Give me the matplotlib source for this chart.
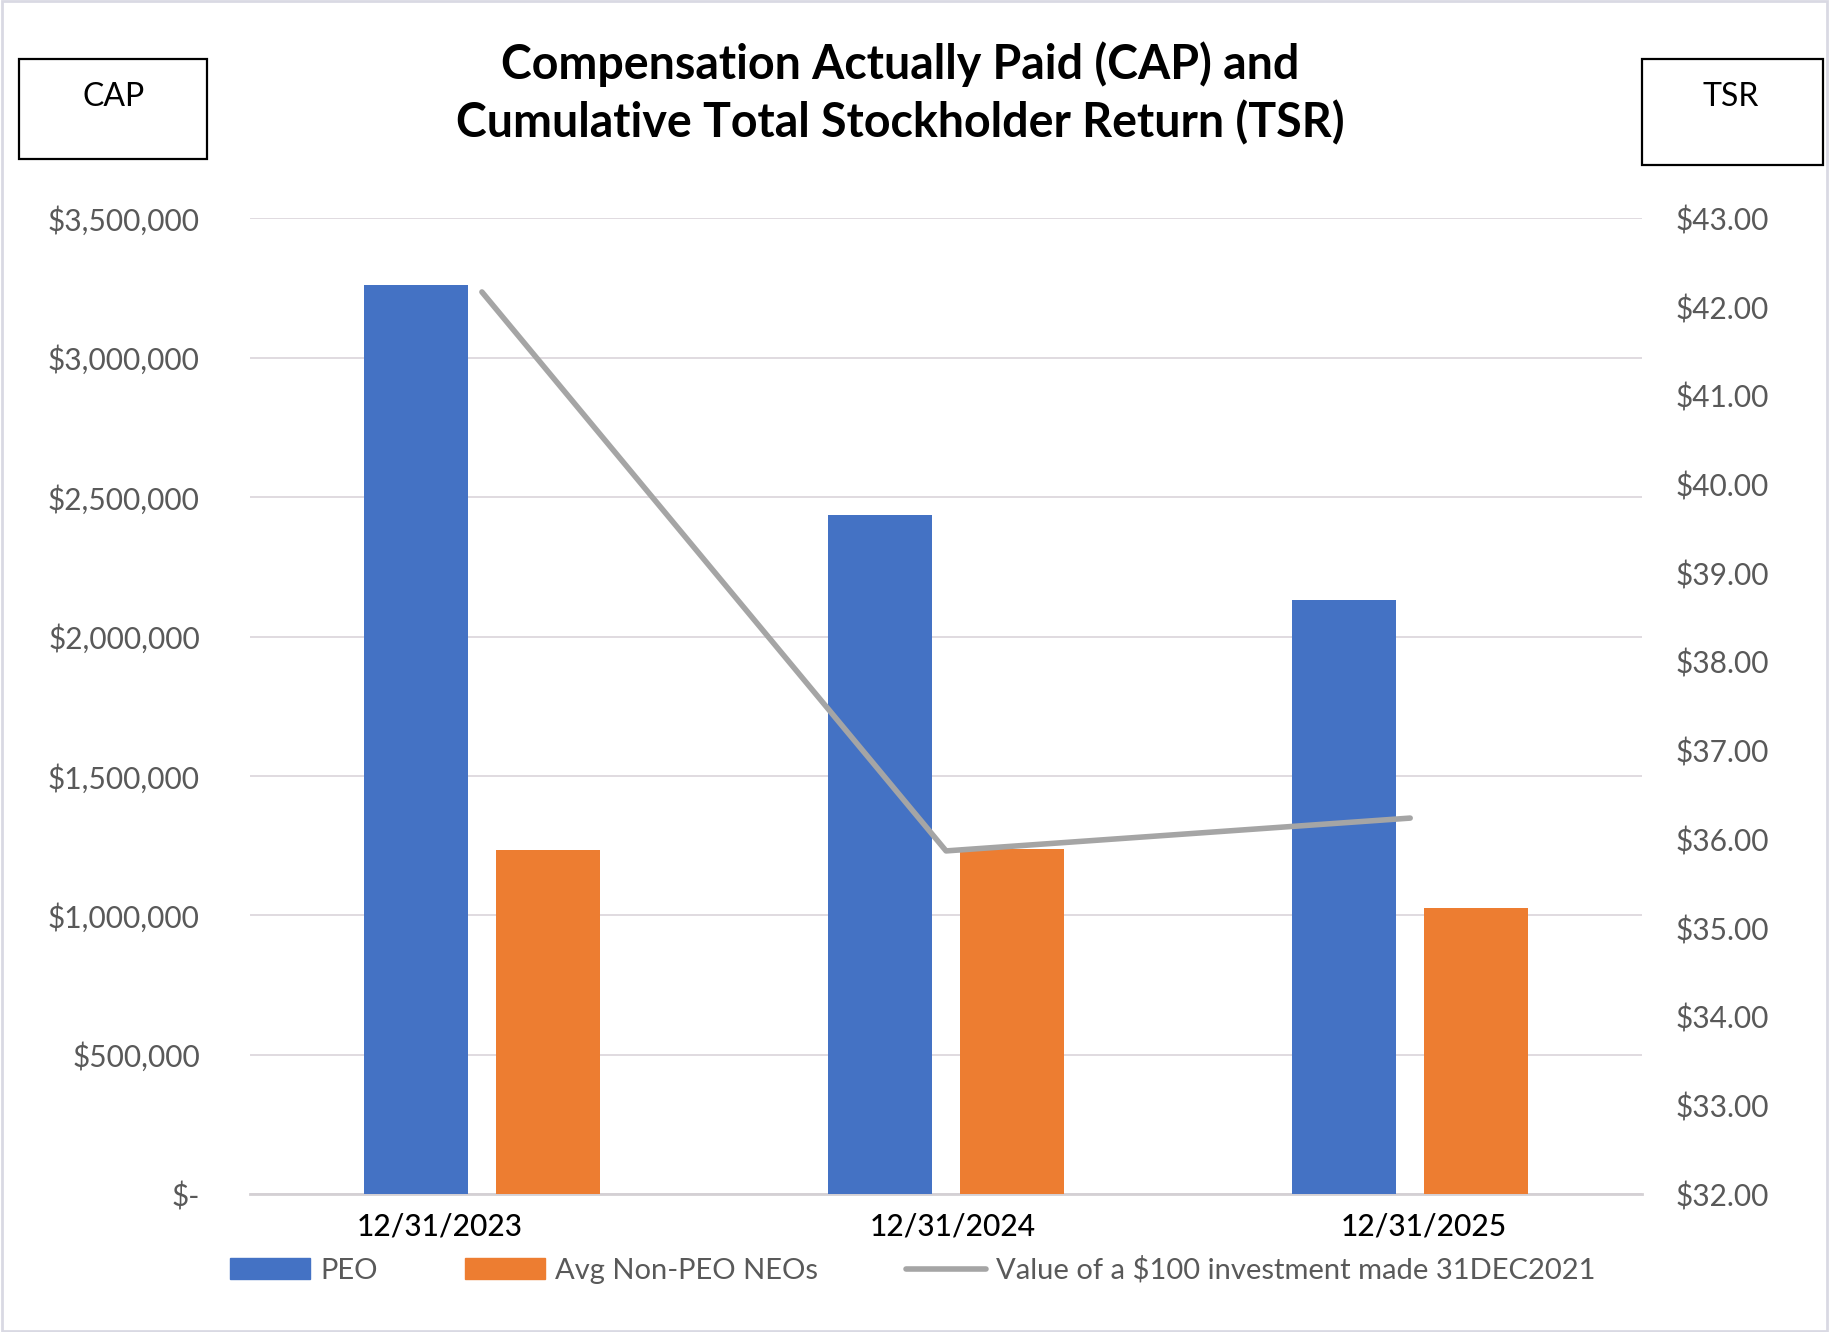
import matplotlib.pyplot as plt
from matplotlib.patches import Rectangle, Patch
from matplotlib.lines import Line2D
from matplotlib.ticker import FuncFormatter
from matplotlib.transforms import ScaledTranslation
import numpy as np

plt.rcParams['font.family'] = ['Lato', 'DejaVu Sans']

# данные
years = ['12/31/2023', '12/31/2024', '12/31/2025']
peo_cap = [3260000, 2437000, 2131000]
neo_cap = [1235000, 1238000, 1028000]
tsr_values = [42.17, 35.87, 36.24]

blue = '#4472C4'
orange = '#ED7D31'
grey = '#A5A5A5'
tick_grey = '#595959'

fig = plt.figure(figsize=(18.29, 13.32), dpi=100)
ax = fig.add_axes([0.1366, 0.1034, 0.7613, 0.7327])

x = np.arange(len(years))
bw = 0.224
off = 0.142
ax.bar(x - off, peo_cap, width=bw, color=blue, zorder=3)
ax.bar(x + off, neo_cap, width=bw, color=orange, zorder=3)

ax.set_xlim(-0.5, 2.5)
ax.set_ylim(0, 3500000)
ax.set_yticks(np.arange(0, 3500001, 500000))


def cap_fmt(v, pos):
    if v == 0:
        return '$-'
    return '${:,.0f}'.format(v)


ax.yaxis.set_major_formatter(FuncFormatter(cap_fmt))
ax.grid(axis='y', color='#DAD4DA', linewidth=1.2, zorder=0)
ax.set_axisbelow(True)
for s in ['top', 'right', 'left']:
    ax.spines[s].set_visible(False)
ax.spines['bottom'].set_color('#D4D0D4')
ax.spines['bottom'].set_linewidth(2)
ax.tick_params(axis='y', length=0, pad=36, labelsize=21.5, labelcolor=tick_grey)
ax.set_xticks(x)
ax.set_xticklabels(years)
ax.tick_params(axis='x', length=0, pad=13, labelsize=21.5, labelcolor='black')
# в оригинале подписи дат немного сдвинуты
for lab, dx in zip(ax.get_xticklabels(), [-0.42, 0.07, 0.14]):
    lab.set_fontweight('medium')
    lab.set_transform(lab.get_transform() + ScaledTranslation(dx, 0, fig.dpi_scale_trans))

# правая ось TSR
ax2 = ax.twinx()
ax2.plot(x, tsr_values, color=grey, linewidth=4, solid_capstyle='round', zorder=4)
ax2.set_ylim(32, 43)
ax2.set_yticks(np.arange(32, 43.1, 1))
ax2.yaxis.set_major_formatter(FuncFormatter(lambda v, p: '${:.2f}'.format(v)))
for s in ['top', 'right', 'left', 'bottom']:
    ax2.spines[s].set_visible(False)
ax2.tick_params(axis='y', length=0, pad=24, labelsize=21.5, labelcolor=tick_grey)

# заголовок
fig.text(0.492, 0.952, 'Compensation Actually Paid (CAP) and', ha='center', va='center',
         fontsize=33.5, fontweight='bold')
fig.text(0.492, 0.908, 'Cumulative Total Stockholder Return (TSR)', ha='center', va='center',
         fontsize=33.5, fontweight='bold')

# рамки с подписями осей
fig.patches.append(Rectangle((0.0102, 0.881), 0.1028, 0.075, transform=fig.transFigure,
                             fill=False, edgecolor='black', linewidth=1.6))
fig.text(0.0619, 0.927, 'CAP', ha='center', va='center', fontsize=23)
fig.patches.append(Rectangle((0.898, 0.876), 0.0988, 0.080, transform=fig.transFigure,
                             fill=False, edgecolor='black', linewidth=1.6))
fig.text(0.9464, 0.927, 'TSR', ha='center', va='center', fontsize=23)

# легенда
handles = [Patch(color=blue), Patch(color=orange),
           Line2D([0], [0], color=grey, linewidth=4, solid_capstyle='round')]
labels = ['PEO', 'Avg Non-PEO NEOs', 'Value of a $100 investment made 31DEC2021']
leg = fig.legend(handles, labels, loc='center', bbox_to_anchor=(0.499, 0.0464), ncol=3,
                 frameon=False, fontsize=21, handlelength=2.75, handleheight=0.75,
                 handletextpad=0.35, columnspacing=3.0, labelcolor=tick_grey)

# внешняя рамка
fig.patches.append(Rectangle((0.001, 0.001), 0.998, 0.998, transform=fig.transFigure,
                             fill=False, edgecolor='#D9D9E3', linewidth=2))

fig.savefig('out.png', dpi=100)
